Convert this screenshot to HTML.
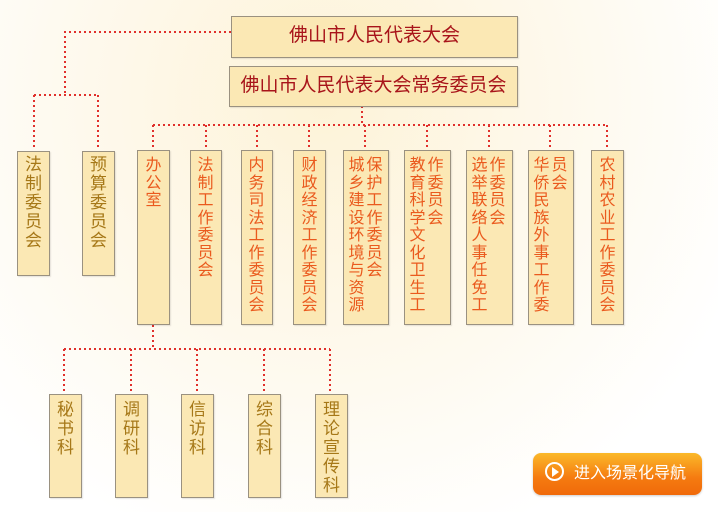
<!DOCTYPE html>
<html><head><meta charset="utf-8"><style>
body{margin:0;width:718px;height:512px;overflow:hidden;position:relative;font-family:"Liberation Sans","Noto Sans CJK SC",sans-serif;
background:radial-gradient(ellipse at 45% 20%,#fdf3d8 0%,#fefaf0 50%,#fff 80%);}
.b{position:absolute;background:#fbe8b4;border:1px solid #9a9180;box-sizing:border-box;box-shadow:1px 1px 1px rgba(0,0,0,.1);}
.t{position:absolute;text-align:center;font-size:19px;color:#a8141a;line-height:40px;}
.v{position:absolute;display:flex;gap:1px;}
.c{width:17px;text-align:center;font-size:16px;line-height:17.5px;}
.r{color:#ea5a1e}.br{color:#a67818}
.br .c{font-size:17px;line-height:19px;}
</style></head><body>
<svg width="718" height="512" style="position:absolute;left:0;top:0">
<g stroke="#e0302c" stroke-width="2" stroke-dasharray="2 3" fill="none">
<path d="M231 32H65V95M34 95H98M34 95V150M98 95V150"/>
<path d="M362 106V125M153 125H607M153 125V150M206 125V150M257 125V150M309 125V150M365 125V150M427 125V150M489 125V150M550 125V150M607 125V150"/>
<path d="M153 325V349M64 349H330M64 349V394M131 349V394M197 349V394M264 349V394M330 349V394"/>
</g></svg>
<div class="b" style="left:231px;top:16px;width:287px;height:42px"></div>
<div class="t" style="left:231px;top:16px;width:287px">佛山市人民代表大会</div>
<div class="b" style="left:229px;top:66px;width:289px;height:41px"></div>
<div class="t" style="left:229px;top:66px;width:289px">佛山市人民代表大会常务委员会</div>

<div class="b" style="left:17px;top:151px;width:33px;height:125px"></div>
<div class="v br" style="left:25px;top:155px"><div class="c">法<br>制<br>委<br>员<br>会</div></div>
<div class="b" style="left:82px;top:151px;width:33px;height:125px"></div>
<div class="v br" style="left:90px;top:155px"><div class="c">预<br>算<br>委<br>员<br>会</div></div>

<div class="b" style="left:137px;top:150px;width:33px;height:175px"></div>
<div class="v r" style="left:145px;top:157px"><div class="c">办<br>公<br>室</div></div>
<div class="b" style="left:190px;top:150px;width:32px;height:175px"></div>
<div class="v r" style="left:197px;top:157px"><div class="c">法<br>制<br>工<br>作<br>委<br>员<br>会</div></div>
<div class="b" style="left:241px;top:150px;width:32px;height:175px"></div>
<div class="v r" style="left:248px;top:157px"><div class="c">内<br>务<br>司<br>法<br>工<br>作<br>委<br>员<br>会</div></div>
<div class="b" style="left:293px;top:150px;width:33px;height:175px"></div>
<div class="v r" style="left:301px;top:157px"><div class="c">财<br>政<br>经<br>济<br>工<br>作<br>委<br>员<br>会</div></div>
<div class="b" style="left:343px;top:150px;width:46px;height:175px"></div>
<div class="v r" style="left:348px;top:157px"><div class="c">城<br>乡<br>建<br>设<br>环<br>境<br>与<br>资<br>源</div><div class="c">保<br>护<br>工<br>作<br>委<br>员<br>会</div></div>
<div class="b" style="left:404px;top:150px;width:47px;height:175px"></div>
<div class="v r" style="left:409px;top:157px"><div class="c">教<br>育<br>科<br>学<br>文<br>化<br>卫<br>生<br>工</div><div class="c">作<br>委<br>员<br>会</div></div>
<div class="b" style="left:466px;top:150px;width:47px;height:175px"></div>
<div class="v r" style="left:471px;top:157px"><div class="c">选<br>举<br>联<br>络<br>人<br>事<br>任<br>免<br>工</div><div class="c">作<br>委<br>员<br>会</div></div>
<div class="b" style="left:528px;top:150px;width:46px;height:175px"></div>
<div class="v r" style="left:533px;top:157px"><div class="c">华<br>侨<br>民<br>族<br>外<br>事<br>工<br>作<br>委</div><div class="c">员<br>会</div></div>
<div class="b" style="left:591px;top:150px;width:33px;height:175px"></div>
<div class="v r" style="left:599px;top:157px"><div class="c">农<br>村<br>农<br>业<br>工<br>作<br>委<br>员<br>会</div></div>

<div class="b" style="left:49px;top:394px;width:33px;height:104px"></div>
<div class="v br" style="left:57px;top:400px"><div class="c">秘<br>书<br>科</div></div>
<div class="b" style="left:115px;top:394px;width:33px;height:104px"></div>
<div class="v br" style="left:123px;top:400px"><div class="c">调<br>研<br>科</div></div>
<div class="b" style="left:181px;top:394px;width:33px;height:104px"></div>
<div class="v br" style="left:189px;top:400px"><div class="c">信<br>访<br>科</div></div>
<div class="b" style="left:248px;top:394px;width:33px;height:104px"></div>
<div class="v br" style="left:256px;top:400px"><div class="c">综<br>合<br>科</div></div>
<div class="b" style="left:315px;top:394px;width:33px;height:104px"></div>
<div class="v br" style="left:323px;top:400px"><div class="c">理<br>论<br>宣<br>传<br>科</div></div>

<div style="position:absolute;left:533px;top:453px;width:169px;height:42px;border-radius:8px;background:linear-gradient(#fbb92a,#f57a10 60%,#f06a0a);box-shadow:0 1px 2px rgba(0,0,0,.2)"></div>
<div style="position:absolute;left:545px;top:462px;width:19px;height:19px;border:2px solid #fff;border-radius:50%;box-sizing:border-box"></div>
<div style="position:absolute;left:552px;top:467px;width:0;height:0;border-left:7px solid #fff;border-top:5px solid transparent;border-bottom:5px solid transparent"></div>
<div style="position:absolute;left:574px;top:453px;line-height:42px;color:#fff;font-size:16px">进入场景化导航</div>
</body></html>
